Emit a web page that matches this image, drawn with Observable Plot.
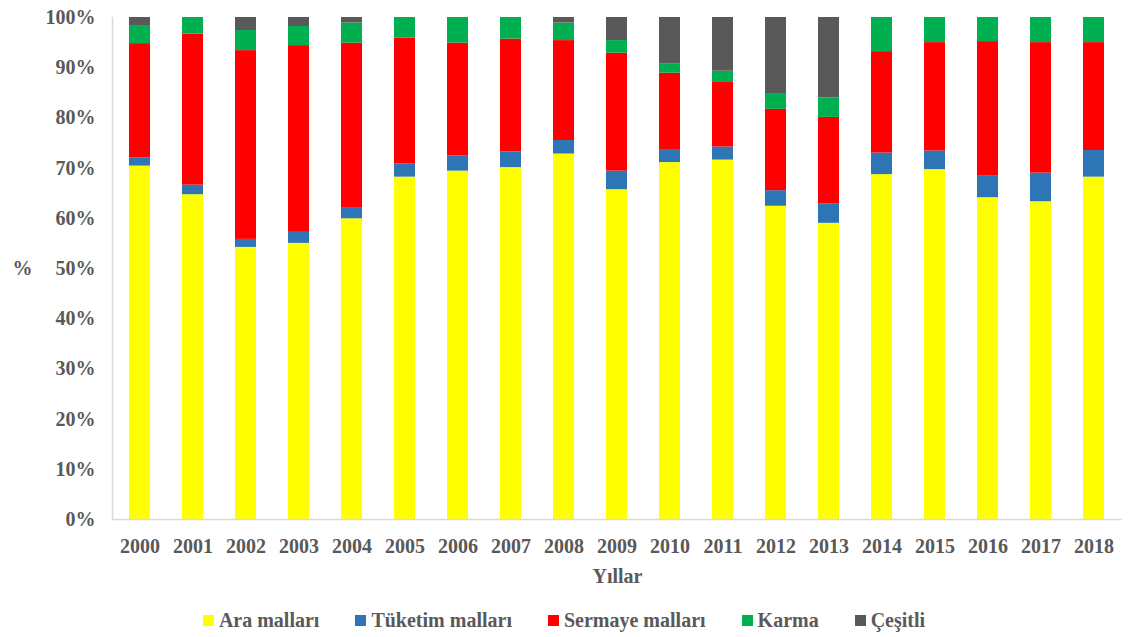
<!DOCTYPE html>
<html>
<head>
<meta charset="utf-8">
<script src="https://cdn.jsdelivr.net/npm/d3@7"></script>
<script src="https://cdn.jsdelivr.net/npm/@observablehq/plot@0.6"></script>
<style>
  html, body { margin: 0; padding: 0; background: #fff; }
  #chart { width: 1128px; }
  .legend { display: flex; justify-content: center; align-items: center; height: 47px; box-sizing: border-box; padding-top: 14px;
    font-family: "Liberation Serif", Tinos, "Times New Roman", Times, "DejaVu Serif", serif; font-weight: bold; font-size: 20px; color: #595959; }
  .legend .item { display: flex; align-items: center; margin: 0 18px; }
  .legend .sw { width: 11px; height: 11px; margin-right: 5px; display: inline-block; }
</style>
</head>
<body>
<div id="chart"></div>
<script>
const years = ["2000","2001","2002","2003","2004","2005","2006","2007","2008","2009","2010","2011","2012","2013","2014","2015","2016","2017","2018"];
const seriesNames = ["Ara malları", "Tüketim malları", "Sermaye malları", "Karma", "Çeşitli"];
const seriesColors = ["#FFFF00", "#2E75B6", "#FF0000", "#00B050", "#595959"];
const ara     = [70.4, 64.7, 54.2, 55.0, 59.9, 68.2, 69.4, 70.1, 72.8, 65.7, 71.1, 71.6, 62.4, 59.0, 68.7, 69.7, 64.1, 63.3, 68.2];
const tuketim = [1.6, 1.9, 1.6, 2.2, 2.1, 2.6, 3.0, 3.1, 2.7, 3.7, 2.6, 2.6, 3.1, 3.9, 4.3, 3.7, 4.4, 5.7, 5.3];
const sermaye = [22.8, 30.1, 37.6, 37.2, 32.9, 25.1, 22.5, 22.5, 19.9, 23.5, 15.2, 13.0, 16.2, 17.2, 20.2, 21.6, 26.7, 26.0, 21.5];
const karma   = [3.6, 3.3, 4.0, 3.8, 4.0, 4.1, 5.1, 4.3, 3.5, 2.5, 1.9, 2.1, 3.0, 3.9, 6.8, 5.0, 4.8, 5.0, 5.0];
const cesitli = [1.6, 0, 2.6, 1.8, 1.1, 0, 0, 0, 1.1, 4.6, 9.2, 10.7, 15.3, 16.0, 0, 0, 0, 0, 0];
const yTicks = [0,10,20,30,40,50,60,70,80,90,100];

const seriesValues = [ara, tuketim, sermaye, karma, cesitli];
const data = [];
seriesNames.forEach((s, si) => {
  years.forEach((y, yi) => data.push({year: y, series: s, value: seriesValues[si][yi]}));
});

const font = '"Liberation Serif", Tinos, "Times New Roman", Times, "DejaVu Serif", serif';
const chart = Plot.plot({
  width: 1128,
  height: 590,
  marginLeft: 112,
  marginRight: 6,
  marginTop: 17,
  marginBottom: 71,
  style: {fontFamily: font, fontSize: "20px", fontWeight: "bold", color: "#595959", background: "#fff"},
  x: {domain: years, paddingInner: 0.6, paddingOuter: 0.315},
  y: {domain: [0, 100]},
  color: {domain: seriesNames, range: seriesColors},
  marks: [
    Plot.barY(data, {x: "year", y: "value", fill: "series", order: seriesNames}),
    Plot.ruleY([0], {stroke: "#d9d9d9", strokeWidth: 1.5}),
    Plot.frame({anchor: "left", stroke: "#d9d9d9", strokeWidth: 1.5}),
    Plot.axisY({ticks: yTicks, tickSize: 0, tickPadding: 17, tickFormat: d => d + "%", label: null, fontFamily: font}),
    Plot.axisX({tickSize: 0, tickPadding: 19, label: "Yıllar", labelAnchor: "center", labelOffset: 63, labelArrow: "none", fontFamily: font}),
    Plot.text(["%"], {frameAnchor: "left", dx: -90, textAnchor: "middle", fontFamily: font})
  ]
});
document.getElementById("chart").appendChild(chart);

const legend = document.createElement("div");
legend.className = "legend";
seriesNames.forEach((s, i) => {
  const item = document.createElement("span");
  item.className = "item";
  const sw = document.createElement("span");
  sw.className = "sw";
  sw.style.background = seriesColors[i];
  item.appendChild(sw);
  item.appendChild(document.createTextNode(s));
  legend.appendChild(item);
});
document.getElementById("chart").appendChild(legend);
</script>
</body>
</html>
